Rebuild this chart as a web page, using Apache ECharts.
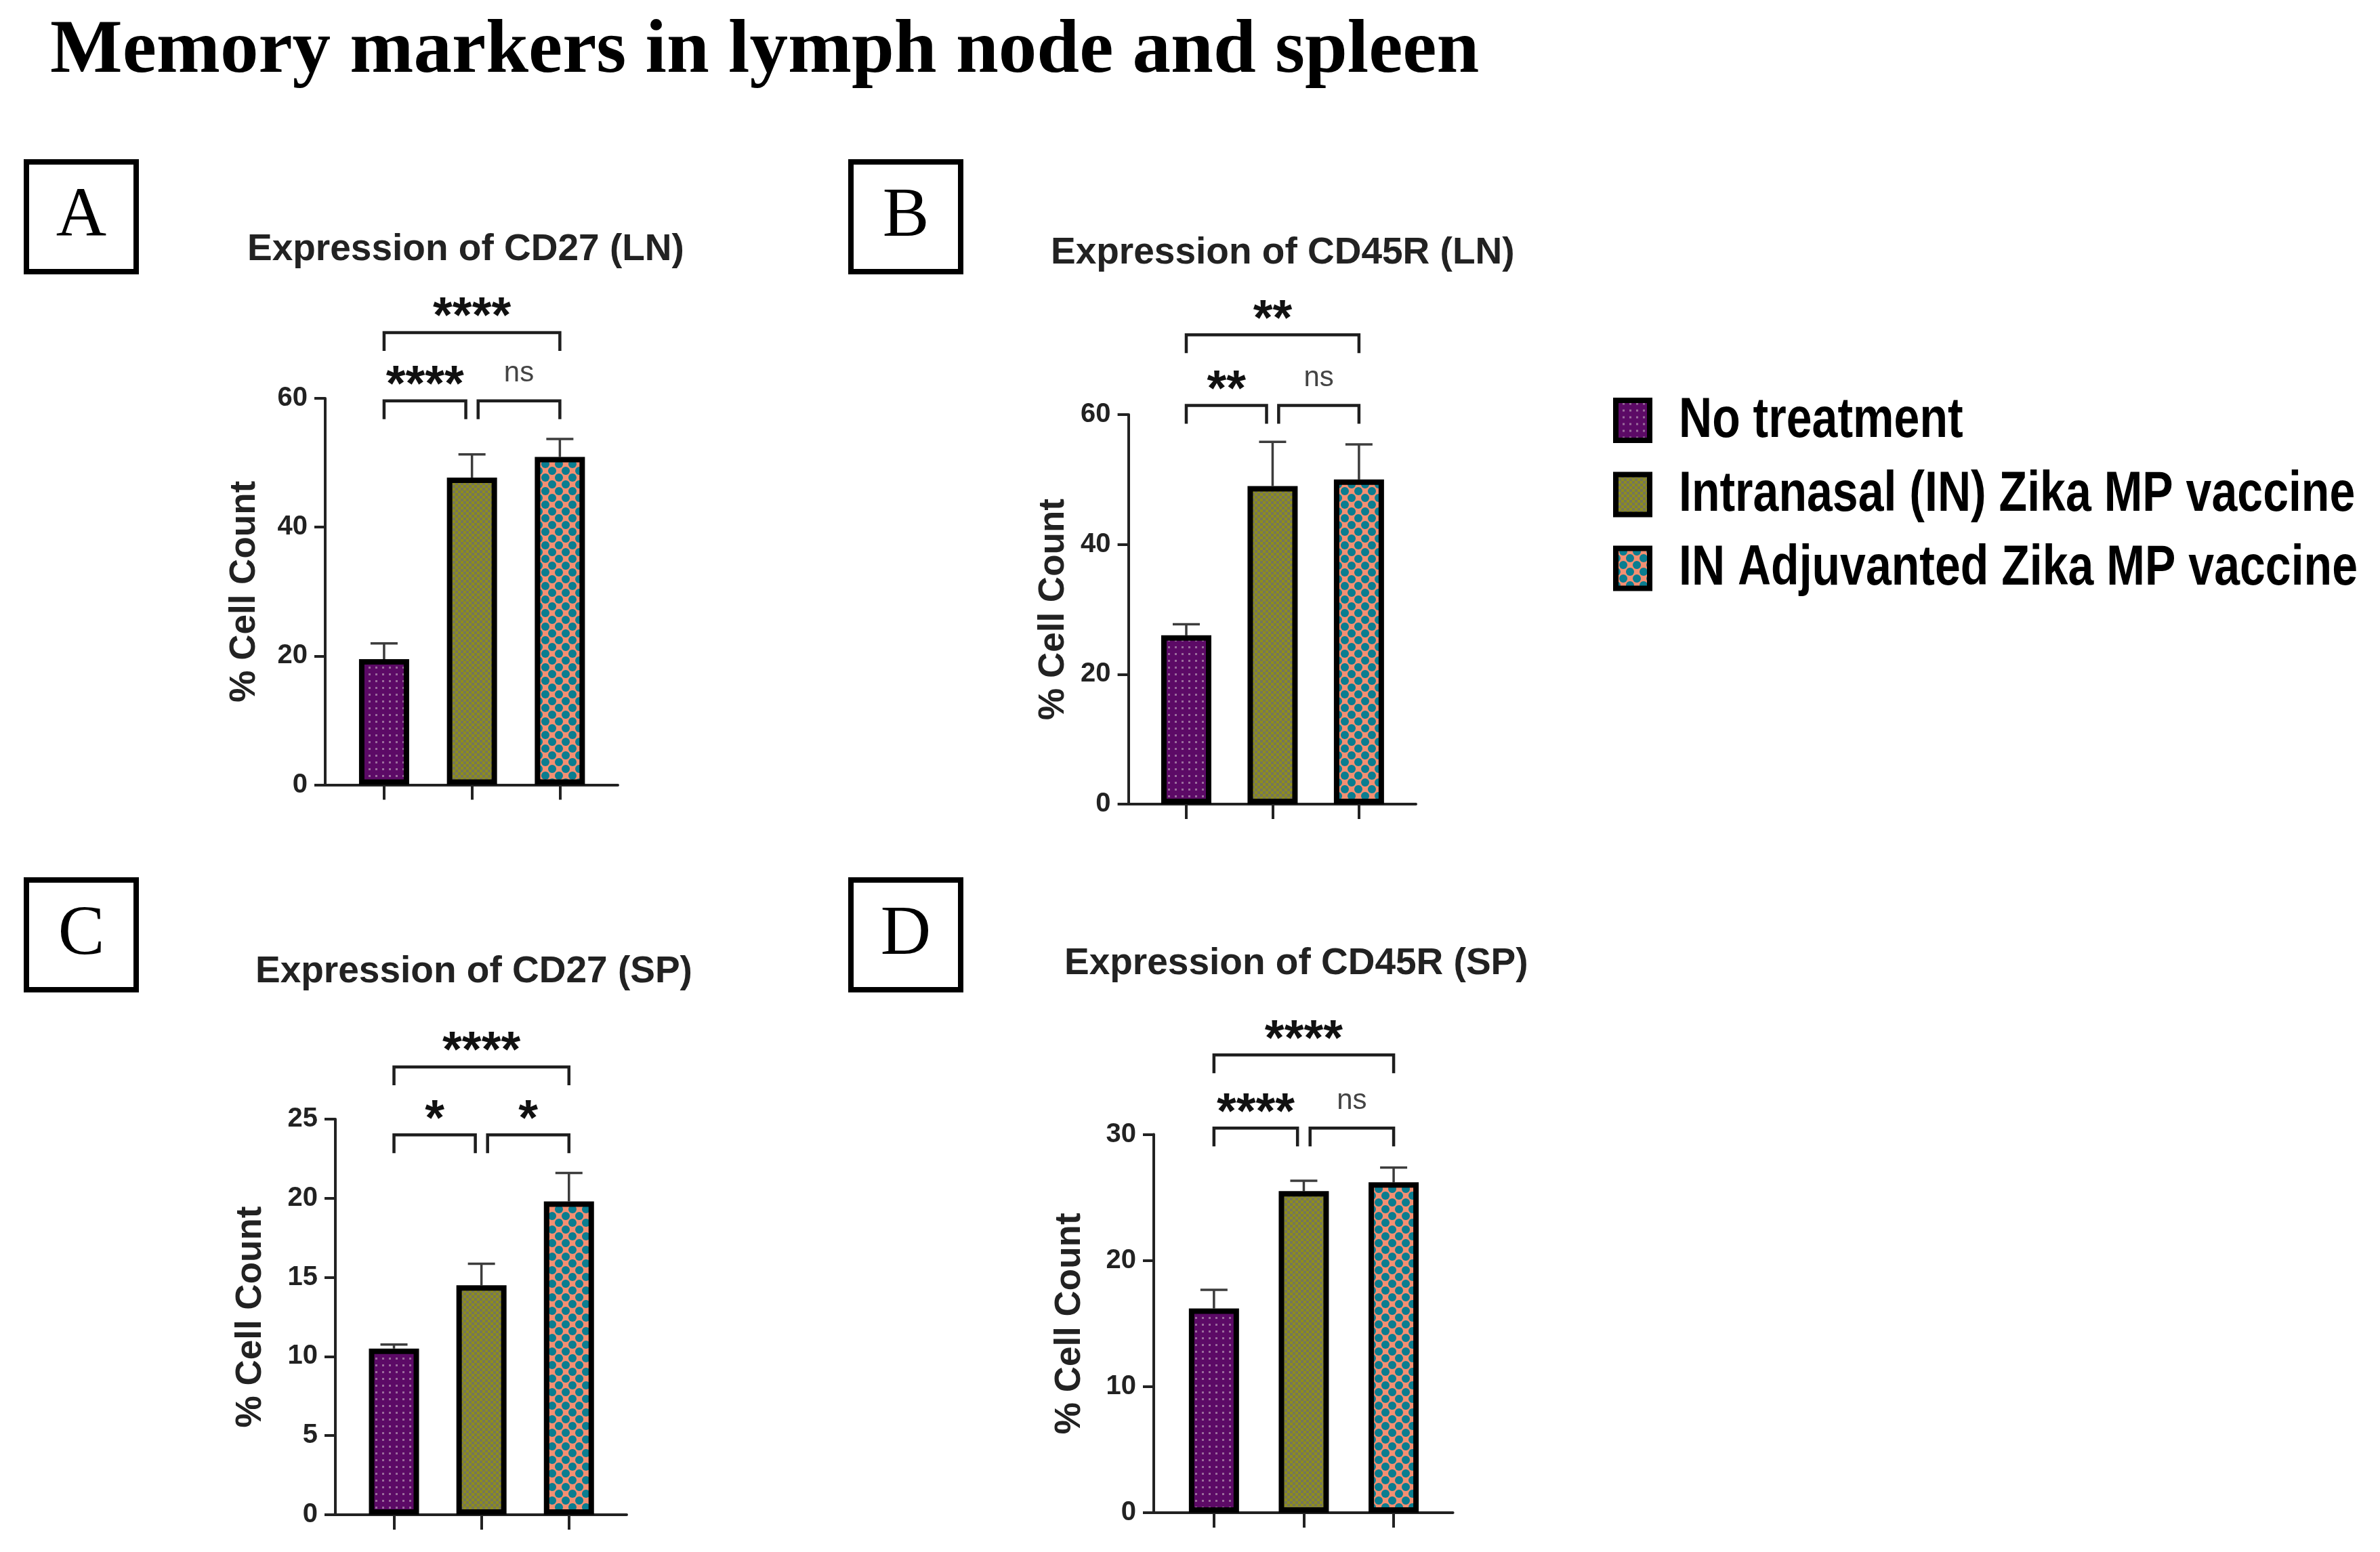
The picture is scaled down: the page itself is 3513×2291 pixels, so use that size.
<!DOCTYPE html>
<html><head><meta charset="utf-8">
<script src="https://cdn.jsdelivr.net/npm/echarts@6/dist/echarts.min.js"></script>
<style>html,body{margin:0;padding:0;background:#fff}#c{width:3513px;height:2291px}</style>
</head><body><div id="c"></div>
<script>
// ---------------- data ----------------
const mainTitle = 'Memory markers in lymph node and spleen';
const groups = ['No treatment', 'Intranasal (IN) Zika MP vaccine', 'IN Adjuvanted Zika MP vaccine'];
const panelLetters = ['A', 'B', 'C', 'D'];
const panelTitles = ['Expression of CD27 (LN)', 'Expression of CD45R (LN)', 'Expression of CD27 (SP)', 'Expression of CD45R (SP)'];
const yAxisName = '% Cell Count';
const yMaxes = [60, 60, 25, 30];
const yIntervals = [20, 20, 5, 10];
const meanA = [19.5, 47.7, 50.9]; const errA = [2.45, 3.6, 2.8];
const meanB = [26.0, 49.0, 50.0]; const errB = [1.7, 6.8, 5.4];
const meanC = [10.5, 14.5, 19.8]; const errC = [0.26, 1.36, 1.8];
const meanD = [16.2, 25.5, 26.2]; const errD = [1.47, 0.83, 1.17];
// significance brackets: [from group, to group, bracket height (axis units), label]
const sigA = [[0, 0.93, 59.6, '****'], [1.07, 2, 59.6, 'ns'], [0, 2, 70.2, '****']];
const sigB = [[0, 0.93, 61.4, '**'], [1.07, 2, 61.4, 'ns'], [0, 2, 72.3, '**']];
const sigC = [[0, 0.93, 24.0, '*'], [1.07, 2, 24.0, '*'], [0, 2, 28.3, '****']];
const sigD = [[0, 0.93, 30.5, '****'], [1.07, 2, 30.5, 'ns'], [0, 2, 36.3, '****']];

const means = [meanA, meanB, meanC, meanD];
const errs = [errA, errB, errC, errD];
const sigs = [sigA, sigB, sigC, sigD];

// ---------------- layout ----------------
const layout = [
  { left: 480, top: 588, width: 432, height: 570.5, nameGap: 92, box: [35, 235], title: [365, 369] },
  { left: 1665.6, top: 612, width: 424.4, height: 575, nameGap: 84, box: [1252, 235], title: [1551, 374] },
  { left: 495, top: 1652, width: 430, height: 584, nameGap: 98, box: [35, 1295], title: [377, 1435] },
  { left: 1703, top: 1674.6, width: 441.6, height: 558.4, nameGap: 97, box: [1252, 1295], title: [1571, 1423] }
];
const legendPos = { x: 2381, rows: [620.5, 730, 839], textX: 97 };
const SANS = '"Liberation Sans", Arial, sans-serif';
const SERIF = '"Liberation Serif", "Times New Roman", serif';
const AX = '#222';

function makePattern(kind) {
  const c = document.createElement('canvas');
  const g = c.getContext('2d');
  if (kind === 0) {
    c.width = 10; c.height = 10;
    g.fillStyle = '#5c0a66'; g.fillRect(0, 0, 10, 10);
    g.fillStyle = '#9a6c9c'; g.fillRect(4, 4, 3, 3);
  } else if (kind === 1) {
    c.width = 8; c.height = 8;
    g.fillStyle = '#8e8e1c'; g.fillRect(0, 0, 8, 8);
    g.fillStyle = '#75755a'; g.fillRect(0, 0, 4, 4); g.fillRect(4, 4, 4, 4);
  } else {
    c.width = 20; c.height = 20;
    g.fillStyle = '#f48f72'; g.fillRect(0, 0, 20, 20);
    g.fillStyle = '#0a7d90';
    const rr = (x, y) => { g.beginPath(); g.arc(x, y, 6.0, 0, Math.PI * 2); g.fill(); };
    rr(5, 5); rr(15, 15); rr(25, 25); rr(-5, -5); rr(25, 5); rr(5, 25); rr(-5, 15); rr(15, -5);
    g.fillStyle = '#f48f72';
    g.fillRect(12, 2, 6, 6); g.fillRect(2, 12, 6, 6);
  }
  return { image: c, repeat: 'repeat' };
}
const patterns = [makePattern(0), makePattern(1), makePattern(2)];

const grids = [], xAxes = [], yAxes = [], series = [], titles = [], graphics = [];
titles.push({
  text: mainTitle, left: 74, top: 20, padding: 0,
  textStyle: { fontFamily: SERIF, fontWeight: 'bold', fontSize: 113, lineHeight: 113, color: '#000' }
});

layout.forEach((L, p) => {
  grids.push({ left: L.left, top: L.top, width: L.width, height: L.height, containLabel: false });
  xAxes.push({
    type: 'value', gridIndex: p, min: -0.67, max: 2.66,
    axisLine: { show: true, onZero: false, lineStyle: { color: AX, width: 4 } },
    axisTick: { show: true, length: 22, customValues: [0, 1, 2], lineStyle: { color: AX, width: 4 } },
    axisLabel: { show: false, customValues: [0, 1, 2] },
    splitLine: { show: false }
  });
  yAxes.push({
    type: 'value', gridIndex: p, min: 0, max: yMaxes[p], interval: yIntervals[p],
    name: yAxisName, nameLocation: 'middle', nameGap: L.nameGap,
    nameTextStyle: { fontFamily: SANS, fontWeight: 'bold', fontSize: 53, color: AX },
    axisLine: { show: true, onZero: false, lineStyle: { color: AX, width: 4 } },
    axisTick: { show: true, length: 16, lineStyle: { color: AX, width: 4 } },
    axisLabel: { fontFamily: SANS, fontWeight: 'bold', fontSize: 40, color: AX, margin: 26 },
    splitLine: { show: false }
  });
  // error bars (behind bars)
  series.push({
    type: 'custom', xAxisIndex: p, yAxisIndex: p, z: 1, silent: true, clip: false,
    data: means[p].map((m, i) => [i, m, m + errs[p][i]]),
    renderItem: (params, api) => {
      const b = api.coord([api.value(0), api.value(1)]);
      const t = api.coord([api.value(0), api.value(2)]);
      const st = { stroke: '#3c3c3c', lineWidth: 3.5 };
      return { type: 'group', children: [
        { type: 'line', shape: { x1: b[0], y1: b[1], x2: t[0], y2: t[1] }, style: st },
        { type: 'line', shape: { x1: t[0] - 20, y1: t[1], x2: t[0] + 20, y2: t[1] }, style: st }
      ] };
    }
  });
  groups.forEach((gname, g) => {
    series.push({
      type: 'bar', name: gname, xAxisIndex: p, yAxisIndex: p, z: 3,
      data: [[g, means[p][g]]], barWidth: 74, barGap: '-100%',
      itemStyle: { color: patterns[g], borderColor: '#000', borderWidth: 8 },
      emphasis: { disabled: true }
    });
  });
  // significance brackets
  const sig = sigs[p];
  series.push({
    type: 'custom', xAxisIndex: p, yAxisIndex: p, z: 4, silent: true, clip: false,
    data: sig.map(s => [s[0], s[1], s[2]]),
    renderItem: (params, api) => {
      const a = api.coord([api.value(0), api.value(2)]);
      const b = api.coord([api.value(1), api.value(2)]);
      const lbl = sig[params.dataIndex][3];
      const ns = lbl === 'ns';
      return { type: 'group', children: [
        { type: 'polyline', shape: { points: [[a[0], a[1] + 27], [a[0], a[1]], [b[0], b[1]], [b[0], b[1] + 27]] },
          style: { stroke: '#1e1e1e', lineWidth: 4.5, fill: null, lineJoin: 'miter' } },
        { type: 'text', x: (a[0] + b[0]) / 2, y: a[1] - (ns ? 40 : 21),
          style: { text: lbl, align: 'center', verticalAlign: 'middle',
            fontFamily: SANS, fontWeight: ns ? 'normal' : 'bold', fontSize: ns ? 42 : 74,
            fill: ns ? '#444' : '#111' } }
      ] };
    }
  });
  titles.push({
    text: panelTitles[p], left: L.title[0], top: L.title[1] - 30, padding: 0,
    textStyle: { fontFamily: SANS, fontWeight: 'bold', fontSize: 55, lineHeight: 60, color: AX }
  });
  graphics.push({
    type: 'group', x: L.box[0], y: L.box[1], children: [
      { type: 'rect', shape: { x: 4, y: 4, width: 162, height: 162 }, style: { fill: '#fff', stroke: '#000', lineWidth: 8 } },
      { type: 'text', x: 85, y: 86, style: { text: panelLetters[p], fontFamily: SERIF, fontSize: 103, fill: '#000', align: 'center', verticalAlign: 'middle' } }
    ]
  });
});

// legend (swatches share the bar patterns; narrow bold text)
groups.forEach((gname, g) => {
  const cy = legendPos.rows[g];
  graphics.push({
    type: 'group', x: legendPos.x, y: cy, children: [
      { type: 'rect', shape: { x: 4, y: -29.5, width: 50, height: 59 }, style: { fill: patterns[g], stroke: '#000', lineWidth: 8 } },
      { type: 'text', x: legendPos.textX, y: 1, scaleX: 0.81,
        style: { text: gname, fontFamily: SANS, fontWeight: 'bold', fontSize: 84, fill: '#000', align: 'left', verticalAlign: 'middle' } }
    ]
  });
});

const chart = echarts.init(document.getElementById('c'));
chart.setOption({
  backgroundColor: '#fff',
  animation: false,
  title: titles,
  grid: grids,
  xAxis: xAxes,
  yAxis: yAxes,
  series: series,
  graphic: graphics
});
</script>
</body></html>
